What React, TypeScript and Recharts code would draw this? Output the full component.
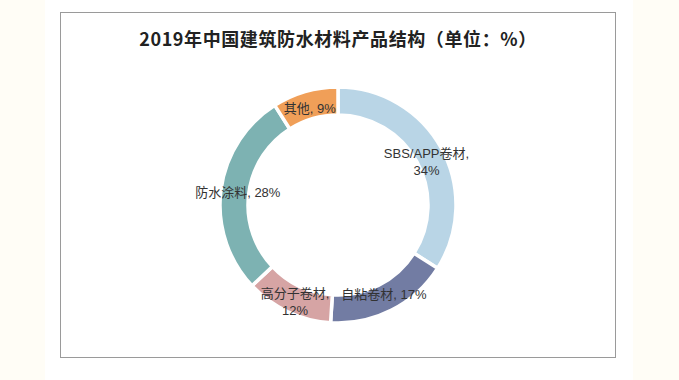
import React from 'react';
import { PieChart, Pie, Cell } from 'recharts';

const categories = ['SBS/APP卷材', '自粘卷材', '高分子卷材', '防水涂料', '其他'];
const shares = [34, 17, 12, 28, 9];
const colors = ['#b9d5e6', '#727ca3', '#d6a4a4', '#7db2b2', '#f09f58'];
const title = '2019年中国建筑防水材料产品结构（单位：%）';

const data = categories.map((name, i) => ({ name, value: shares[i] }));

const RADIAN = Math.PI / 180;

const renderLabel = (props: any) => {
  const { cx, cy, midAngle, innerRadius, outerRadius, name, value } = props;
  const r = (innerRadius + outerRadius) / 2 - 3;
  const x = cx + r * Math.cos(-midAngle * RADIAN);
  const y = cy + r * Math.sin(-midAngle * RADIAN);
  const style = { fontSize: 13, fill: '#333', fontFamily: '"Liberation Sans", "Noto Sans CJK SC", sans-serif' };
  // longer names get wrapped like the original
  if (name.length >= 5) {
    return (
      <text x={x} y={y} textAnchor="middle" style={style}>
        <tspan x={x} dy="0.1em">{name},</tspan>
        <tspan x={x} dy="1.35em">{value}%</tspan>
      </text>
    );
  }
  return (
    <text x={x} y={y} textAnchor="middle" dominantBaseline="central" style={style}>
      {name}, {value}%
    </text>
  );
};

export default function App() {
  return (
    <div style={{ position: 'relative', width: 679, height: 380, background: '#fffdf6' }}>
      <style>{'body{margin:0}'}</style>
      <div style={{ position: 'absolute', left: 45, top: 0, width: 588, height: 380, background: '#fff' }} />
      <div
        style={{
          position: 'absolute',
          left: 60,
          top: 12,
          width: 554,
          height: 344,
          border: '1.5px solid #9a9a9a',
          background: '#fff',
        }}
      >
        <div
          style={{
            position: 'absolute',
            top: 12,
            left: 0,
            width: '100%',
            textAlign: 'center',
            fontFamily: '"Noto Sans CJK SC", sans-serif',
            fontWeight: 700,
            fontSize: 18,
            color: '#222',
            letterSpacing: 0.6,
          }}
        >
          {title}
        </div>
        <PieChart width={554} height={344} style={{ position: 'absolute', left: 0, top: 0 }}>
          <Pie
            data={data}
            dataKey="value"
            nameKey="name"
            cx={272}
            cy={187}
            innerRadius={90}
            outerRadius={118}
            startAngle={90}
            endAngle={-270}
            stroke="#fff"
            strokeWidth={3.5}
            label={renderLabel}
            labelLine={false}
            isAnimationActive={false}
          >
            {data.map((d, i) => (
              <Cell key={d.name} fill={colors[i]} />
            ))}
          </Pie>
        </PieChart>
      </div>
    </div>
  );
}
